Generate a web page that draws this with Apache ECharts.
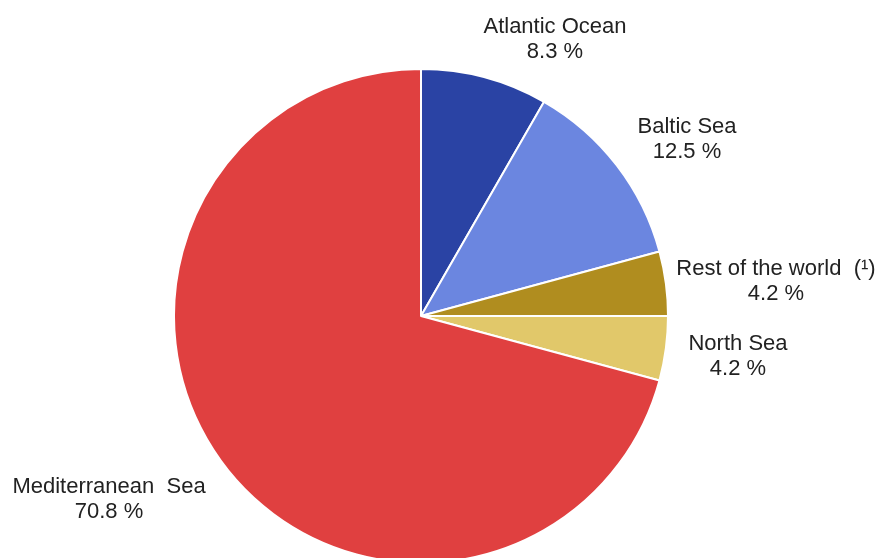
<!DOCTYPE html>
<html>
<head>
<meta charset="utf-8">
<script src="https://cdn.jsdelivr.net/npm/echarts@6/dist/echarts.min.js"></script>
<style>
    html, body { margin: 0; padding: 0; background: #fff; }
    #chart { width: 892px; height: 558px; }
</style>
</head>
<body>
<div id="chart"></div>
<script>
    // 数据
    var seaNames = ['Atlantic Ocean', 'Baltic Sea', 'Rest of the world  (¹)', 'North Sea', 'Mediterranean  Sea'];
    var sharePct = [8.3, 12.5, 4.2, 4.2, 70.8];
    var sliceColors = ['#2a43a4', '#6b86e0', '#b08d1f', '#e1c86a', '#e04040'];

    // label centre positions (px)
    var labelPos = [[555, 39], [687, 139], [776, 281], [738, 356], [109, 499]];

    var chart = echarts.init(document.getElementById('chart'));
    chart.setOption({
        animation: false,
        series: [{
            type: 'pie',
            center: [421, 316],
            radius: 247,
            startAngle: 90,
            clockwise: true,
            data: seaNames.map(function (n, i) {
                return { name: n, value: sharePct[i], itemStyle: { color: sliceColors[i] } };
            }),
            itemStyle: {
                borderColor: '#fff',
                borderWidth: 2
            },
            label: {
                show: true,
                position: 'outside',
                overflow: 'none',
                formatter: function (p) {
                    return p.name + '\n' + p.value.toFixed(1) + ' %';
                },
                color: '#222',
                fontFamily: 'Liberation Sans, Arial, sans-serif',
                fontSize: 22,
                lineHeight: 25,
                align: 'center'
            },
            labelLine: { show: false },
            labelLayout: function (p) {
                var pos = labelPos[p.dataIndex];
                return { x: pos[0], y: pos[1], align: 'center', verticalAlign: 'middle', width: 300 };
            },
            emphasis: { disabled: true }
        }]
    });
</script>
</body>
</html>
